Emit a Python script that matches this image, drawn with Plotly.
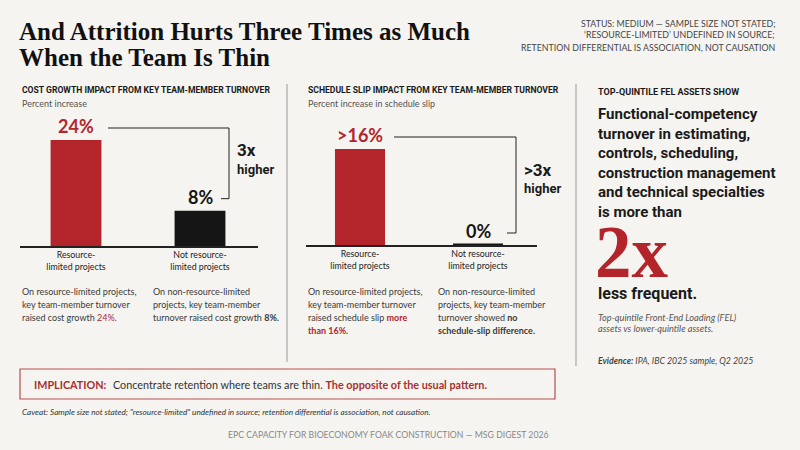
import plotly.graph_objects as go

# %%
# Data
cost_categories = ["Resource-<br>limited projects", "Not resource-<br>limited projects"]
cost_growth = [24, 8]
cost_labels = ["24%", "8%"]

slip_categories = ["Resource-<br>limited projects", "Not resource-<br>limited projects"]
slip_increase = [16, 0]
slip_labels = [">16%", "0%"]

bar_colors = ["#b3252b", "#151515"]

# %%
W, H = 800, 450
BG = "#f5f4f0"
RED = "#b3252b"
DARK = "#1a1a1a"


def px(x):
    return x / W


def py(y):
    return 1 - y / H


# Panel geometry in pixels (baseline, top of y range)
p1_base, p1_top, p1_max = 246, 113.5, 30
p2_base, p2_top, p2_max = 245, 125, 20


def p1_y(v):
    return p1_base - v * (p1_base - p1_top) / p1_max


def p2_y(v):
    return p2_base - v * (p2_base - p2_top) / p2_max


fig = go.Figure()

fig.add_trace(go.Bar(
    x=cost_categories, y=cost_growth,
    marker=dict(color=bar_colors, line=dict(width=0)),
    width=0.41, xaxis="x", yaxis="y", hoverinfo="skip",
))
fig.add_trace(go.Bar(
    x=slip_categories, y=slip_increase,
    marker=dict(color=bar_colors, line=dict(width=[0, 3], color=bar_colors)),
    width=0.424, xaxis="x2", yaxis="y2", hoverinfo="skip",
))

tick_font = dict(family="Lato", size=8.8, color="#222")
xaxis_common = dict(type="category", showgrid=False, zeroline=False, ticks="",
                    showline=True, linecolor="#222", linewidth=1.5,
                    tickfont=tick_font, fixedrange=True)
yaxis_common = dict(visible=False, showgrid=False, zeroline=False, fixedrange=True)

fig.update_layout(
    width=W, height=H,
    margin=dict(l=0, r=0, t=0, b=0),
    paper_bgcolor=BG, plot_bgcolor="rgba(0,0,0,0)",
    showlegend=False,
    xaxis=dict(domain=[px(20), px(258)], range=[-0.4516, 1.4677], anchor="y", **xaxis_common),
    yaxis=dict(domain=[py(p1_base), py(p1_top)], range=[0, p1_max], anchor="x", **yaxis_common),
    xaxis2=dict(domain=[px(306), px(537)], range=[-0.4576, 1.5], anchor="y2", **xaxis_common),
    yaxis2=dict(domain=[py(p2_base), py(p2_top)], range=[0, p2_max], anchor="x2", **yaxis_common),
)

# Value labels above the bars
for cat, val, lab, col in zip(cost_categories, cost_growth, cost_labels, bar_colors):
    fig.add_annotation(x=cat, y=val, xref="x", yref="y", text=lab, showarrow=False,
                       yanchor="bottom", yshift=1,
                       font=dict(family="Lato", size=18, color=col, weight="bold"))
for cat, val, lab, col in zip(slip_categories, slip_increase, slip_labels, bar_colors):
    fig.add_annotation(x=cat, y=val, xref="x2", yref="y2", text=lab, showarrow=False,
                       yanchor="bottom", yshift=1,
                       font=dict(family="Lato", size=18, color=col, weight="bold"))


def text(x, y, s, size, color=DARK, family="Lato", weight="normal", style="normal",
         xanchor="left", yanchor="middle", align="left"):
    fig.add_annotation(x=px(x), y=py(y), xref="paper", yref="paper", text=s,
                       showarrow=False, xanchor=xanchor, yanchor=yanchor, align=align,
                       font=dict(family=family, size=size, color=color,
                                 weight=weight, style=style))


def lines(x, y0, step, rows, size, **kw):
    # one annotation per row so the line spacing can follow the reference
    for i, s in enumerate(rows):
        text(x, y0 + i * step, s, size, **kw)


def line(x0, y0, x1, y1, color="#222", width=1):
    fig.add_shape(type="line", xref="paper", yref="paper",
                  x0=px(x0), y0=py(y0), x1=px(x1), y1=py(y1),
                  line=dict(color=color, width=width))


# Brackets comparing the two bars
b1_hi, b1_lo = p1_y(cost_growth[0]) - 12, p1_y(cost_growth[1]) - 12
line(108, b1_hi, 229, b1_hi)
line(229, b1_hi, 229, b1_lo)
line(221, b1_lo, 229, b1_lo)
text(235, 150, "3x", 17, weight="bold", family="Roboto")
text(235, 169, "higher", 13, weight="bold", family="Roboto")

b2_hi, b2_lo = p2_y(slip_increase[0]) - 12, p2_y(slip_increase[1]) - 12
line(394, b2_hi, 516, b2_hi)
line(516, b2_hi, 516, b2_lo)
line(507, b2_lo, 516, b2_lo)
text(522, 170, ">3x", 17, weight="bold", family="Roboto")
text(522, 189, "higher", 13, weight="bold", family="Roboto")

# Title and status note
lines(17, 31, 26, ["And Attrition Hurts Three Times as Much", "When the Team Is Thin"], 25,
      color="#111", family="Liberation Serif", weight="bold")
lines(777, 23, 12, ["STATUS: MEDIUM — SAMPLE SIZE NOT STATED;",
                    "‘RESOURCE-LIMITED’ UNDEFINED IN SOURCE;",
                    "RETENTION DIFFERENTIAL IS ASSOCIATION, NOT CAUSATION"],
      8.8, color="#444", xanchor="right", align="right")

# Panel headers
text(20, 90, "COST GROWTH IMPACT FROM KEY TEAM-MEMBER TURNOVER", 8.6,
     family="Roboto", weight="bold")
text(20, 104, "Percent increase", 9, color="#555")
text(306, 90, "SCHEDULE SLIP IMPACT FROM KEY TEAM-MEMBER TURNOVER", 8.6,
     family="Roboto", weight="bold")
text(306, 104, "Percent increase in schedule slip", 9, color="#555")

# Dividers
line(287, 84, 287, 362, color="#999", width=1)
line(576, 84, 576, 366, color="#999", width=1)

# Explanatory notes under the bars
body = "#3a3a3a"
lines(20, 291, 13, ["On resource-limited projects,", "key team-member turnover",
                    f"raised cost growth <span style='color:{RED}'>24%.</span>"],
      9, color=body)
lines(151, 291, 13, ["On non-resource-limited", "projects, key team-member",
                     "turnover raised cost growth <b>8%.</b>"], 9, color=body)
lines(306, 291, 13, ["On resource-limited projects,", "key team-member turnover",
                     f"raised schedule slip <span style='color:{RED}'><b>more</b></span>",
                     f"<span style='color:{RED}'><b>than 16%.</b></span>"], 9, color=body)
lines(436, 291, 13, ["On non-resource-limited", "projects, key team-member",
                     "turnover showed <b>no</b>", "<b>schedule-slip difference.</b>"],
      9, color=body)

# Right-hand callout
text(596, 92, "TOP-QUINTILE FEL ASSETS SHOW", 9, family="Roboto", weight="bold")
text(596, 163, "Functional-competency<br>turnover in estimating,<br>controls, scheduling,<br>"
     "construction management<br>and technical specialties<br>is more than", 15,
     family="Roboto", weight="bold")
text(593, 252, "2x", 73, color=RED, family="Liberation Serif", weight="bold")
text(596, 293, "less frequent.", 16, family="Roboto", weight="bold")
lines(596, 317, 11, ["Top-quintile Front-End Loading (FEL)", "assets vs lower-quintile assets."],
      9.2, color="#555", style="italic")
text(596, 360, "<b>Evidence:</b> IPA, IBC 2025 sample, Q2 2025", 8.8, color="#444",
     style="italic")

# Implication box
fig.add_shape(type="rect", xref="paper", yref="paper",
              x0=px(20), y0=py(369), x1=px(555), y1=py(399),
              line=dict(color="#b5504e", width=1.2), fillcolor="rgba(0,0,0,0)")
text(32, 384, "IMPLICATION:", 10.8, color="#a8302f", weight="bold")
text(111, 384, "Concentrate retention where teams are thin. "
     "<span style='color:#a8302f'><b>The opposite of the usual pattern.</b></span>",
     10.8, color="#333")

# Caveat and footer
text(20, 412, "Caveat: Sample size not stated; \"resource-limited\" undefined in source; "
     "retention differential is association, not causation.", 8.2, color="#333",
     style="italic")
text(551, 434, "EPC CAPACITY FOR BIOECONOMY FOAK CONSTRUCTION — MSG DIGEST 2026", 8.7,
     color="#888", xanchor="right")

fig.write_html("out.html", config={"displayModeBar": False},
               post_script="document.body.style.margin='0';")
